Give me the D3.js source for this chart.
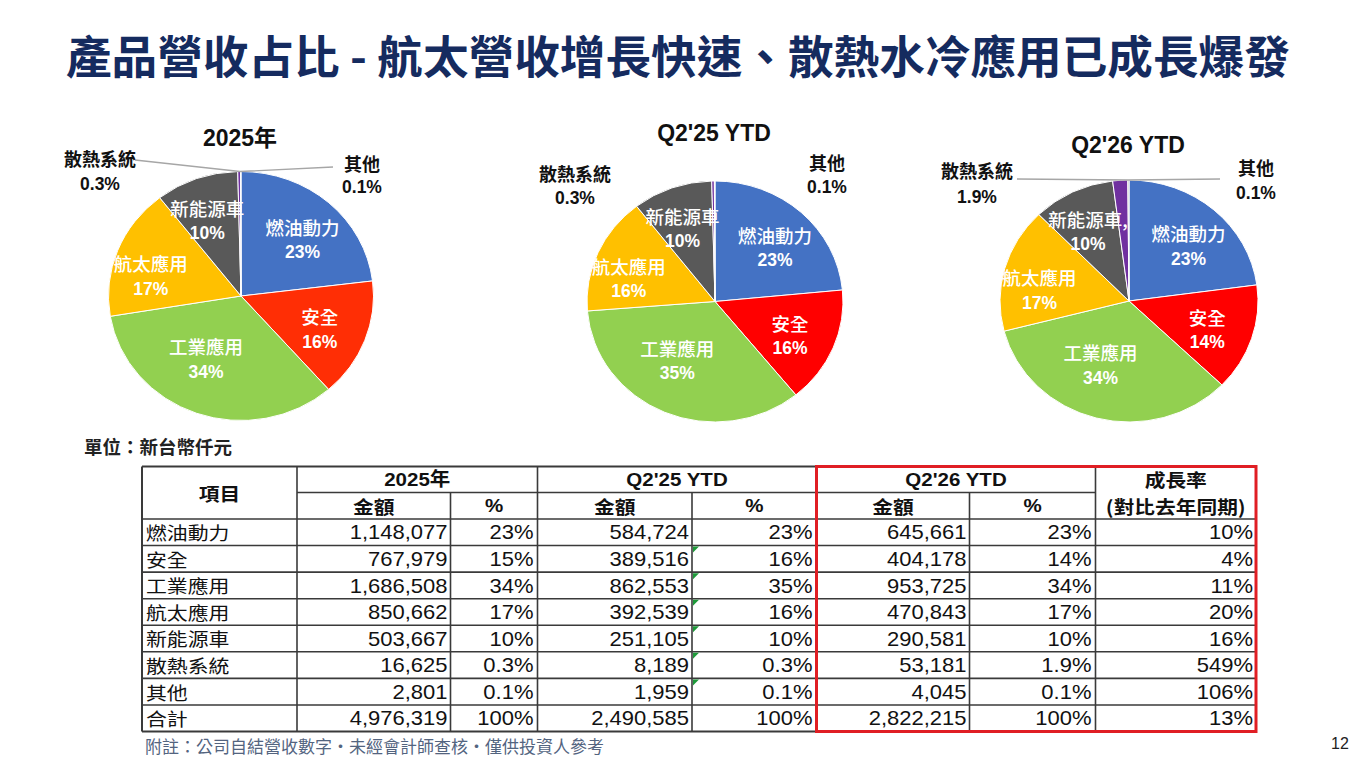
<!DOCTYPE html>
<html><head><meta charset="utf-8">
<script src="https://cdn.jsdelivr.net/npm/d3@7/dist/d3.min.js"></script>
<style>
html,body{margin:0;padding:0;background:#fff;}
svg{display:block;}
.lat{font-family:"Liberation Sans",Arial,"Noto Sans CJK TC",sans-serif;}
.cjk{font-family:"Noto Sans CJK TC","Liberation Sans",sans-serif;}
</style></head>
<body>
<svg id="c" width="1354" height="758"></svg>
<script>
// ---------- data ----------
const categories = ["燃油動力","安全","工業應用","航太應用","新能源車","散熱系統","其他"];
const amt2025 = [1148077, 767979, 1686508, 850662, 503667, 16625, 2801];
const pct2025 = ["23%","15%","34%","17%","10%","0.3%","0.1%"];
const amtQ225 = [584724, 389516, 862553, 392539, 251105, 8189, 1959];
const pctQ225 = ["23%","16%","35%","16%","10%","0.3%","0.1%"];
const amtQ226 = [645661, 404178, 953725, 470843, 290581, 53181, 4045];
const pctQ226 = ["23%","14%","34%","17%","10%","1.9%","0.1%"];
const growthRate = ["10%","4%","11%","20%","16%","549%","106%"];
const totalLabel = "合計";
const totalAmt = [4976319, 2490585, 2822215];
const totalPct = ["100%","100%","100%"];
const totalGrowth = "13%";
const periods = ["2025年","Q2'25 YTD","Q2'26 YTD"];
const pieLabelPct2025 = ["23%","16%","34%","17%","10%","0.3%","0.1%"];
const pieLabelPctQ225 = ["23%","16%","35%","16%","10%","0.3%","0.1%"];
const pieLabelPctQ226 = ["23%","14%","34%","17%","10%","1.9%","0.1%"];
const pieCatNames2025 = ["燃油動力","安全","工業應用","航太應用","新能源車","散熱系統","其他"];
const pieCatNamesQ225 = ["燃油動力","安全","工業應用","航太應用","新能源車","散熱系統","其他"];
const pieCatNamesQ226 = ["燃油動力","安全","工業應用","航太應用","新能源車,","散熱系統","其他"];
const titleText = "產品營收占比 - 航太營收增長快速、散熱水冷應用已成長爆發";
const unitText = "單位：新台幣仟元";
const noteText = "附註：公司自結營收數字・未經會計師查核・僅供投資人參考";
const pageNo = "12";

// ---------- style ----------
const colorsPie1 = ["#4472C4","#FF2E05","#92D050","#FFC000","#595959","#7030A0","#A5A5A5"];
const colorsPie2 = ["#4472C4","#FF0000","#92D050","#FFC000","#595959","#7030A0","#A5A5A5"];
const colorsPie3 = ["#4472C4","#FF0000","#92D050","#FFC000","#595959","#7030A0","#A5A5A5"];
// label placement style (relative radius, angular nudge in degrees) for inside labels
const labelRadiusFactor = [0.65, 0.65, 0.57, 0.70, 0.66];
const labelAngleNudge = [4, 3, 8, -8, -3];

const svg = d3.select("#c");

// Title
const title = svg.append("text").attr("class","cjk")
  .attr("x",66).attr("y",54).attr("dominant-baseline","central")
  .attr("font-weight",700).attr("fill","#152B5F").attr("font-size",44)
  .text(titleText);
{
  const w = title.node().getComputedTextLength();
  title.attr("font-size", 44 * 1224 / w);
}

// ---------- pies ----------
const pies = [
  {vals: amt2025, labels: pieLabelPct2025, names: pieCatNames2025, colors: colorsPie1, title: periods[0],
   cx: 241, cy: 296, rx: 132.5, ry: 124.5, ty: 138,
   outL: [-141, -138, -112], outR: [121, -133, -109], leader: true, leaderL:[135,160], leaderR:[333,167]},
  {vals: amtQ225, labels: pieLabelPctQ225, names: pieCatNamesQ225, colors: colorsPie2, title: periods[1],
   cx: 715, cy: 301.5, rx: 128, ry: 120.5, ty: 133,
   outL: [-140, -129, -104], outR: [112, -140, -115], leader: false},
  {vals: amtQ226, labels: pieLabelPctQ226, names: pieCatNamesQ226, colors: colorsPie3, title: periods[2],
   cx: 1129, cy: 301, rx: 129, ry: 121, ty: 145,
   outL: [-152, -131, -104], outR: [127, -134, -108], leader: true, leaderL:[1017,179], leaderR:[1220,179]}
];

pies.forEach(p => {
  const pie = d3.pie().sort(null).startAngle(0).endAngle(2*Math.PI);
  const arcs = pie(p.vals);
  const sx = p.rx / p.ry;
  const arc = d3.arc().innerRadius(0).outerRadius(p.ry);
  const g = svg.append("g").attr("transform", `translate(${p.cx},${p.cy}) scale(${sx},1)`);
  g.selectAll("path").data(arcs).join("path")
    .attr("d", arc).attr("fill", (d,i) => p.colors[i])
    .attr("stroke","#fff").attr("stroke-width",1).attr("vector-effect","non-scaling-stroke");

  // title
  svg.append("text").attr("class","lat").attr("x", p.cx - 1).attr("y", p.ty)
    .attr("text-anchor","middle").attr("dominant-baseline","central")
    .attr("font-size",23).attr("font-weight",700).attr("fill","#111").text(p.title);

  // inside labels
  arcs.slice(0,5).forEach((d,i) => {
    const r = p.ry * labelRadiusFactor[i];
    const nud = labelAngleNudge[i] * Math.PI / 180;
    const la = d3.arc().innerRadius(r).outerRadius(r);
    const c = la.centroid({startAngle: d.startAngle + nud, endAngle: d.endAngle + nud});
    const x = p.cx + c[0]*sx, y = p.cy + c[1];
    svg.append("text").attr("class","cjk").attr("x",x).attr("y",y-12.5)
      .attr("text-anchor","middle").attr("dominant-baseline","central")
      .attr("font-size",18.5).attr("font-weight",500).attr("fill","#fff").text(p.names[i]);
    svg.append("text").attr("class","lat").attr("x",x).attr("y",y+13)
      .attr("text-anchor","middle").attr("dominant-baseline","central")
      .attr("font-size",17.5).attr("font-weight",700).attr("fill","#fff").text(p.labels[i]);
  });

  // leader lines
  if (p.leader) {
    const tpx = p.cx - 1, tpy = p.cy - p.ry;
    svg.append("path").attr("d", `M${p.leaderL[0]},${p.leaderL[1]} L${tpx},${tpy} L${p.leaderR[0]},${p.leaderR[1]}`)
      .attr("fill","none").attr("stroke","#A6A6A6").attr("stroke-width",1.3);
  }
  // outside labels
  [[5, p.outL],[6, p.outR]].forEach(([i, o]) => {
    svg.append("text").attr("class","cjk").attr("x",p.cx + o[0]).attr("y",p.cy + o[1])
      .attr("text-anchor","middle").attr("dominant-baseline","central")
      .attr("font-size",18).attr("font-weight",700).attr("fill","#111").text(p.names[i]);
    svg.append("text").attr("class","lat").attr("x",p.cx + o[0]).attr("y",p.cy + o[2])
      .attr("text-anchor","middle").attr("dominant-baseline","central")
      .attr("font-size",17.5).attr("font-weight",700).attr("fill","#111").text(p.labels[i]);
  });
});

// Unit label
svg.append("text").attr("class","cjk").attr("x",84).attr("y",446).attr("dominant-baseline","central")
  .attr("font-size",18.5).attr("font-weight",700).attr("fill","#222").text(unitText);

// ---------- table ----------
const colX = [142, 297, 450.5, 537.5, 692, 816.5, 969.5, 1095.5, 1256];
const tTop = 466.5, hMid = 492.5, hBot = 519, tBot = 731.5;
const nRows = categories.length + 1;
const y = d3.scaleLinear().domain([0, nRows]).range([hBot, tBot]);
const fmt = d3.format(",");
const tg = svg.append("g");
const lineC = "#3a3a3a";
function hline(x1,x2,yy,w){ tg.append("line").attr("x1",x1).attr("x2",x2).attr("y1",yy).attr("y2",yy).attr("stroke",lineC).attr("stroke-width",w||1.6); }
function vline(xx,y1,y2,w){ tg.append("line").attr("x1",xx).attr("x2",xx).attr("y1",y1).attr("y2",y2).attr("stroke",lineC).attr("stroke-width",w||1.6); }

// outer border
hline(colX[0], colX[8], tTop, 2);
hline(colX[0], colX[8], tBot, 2);
vline(colX[0], tTop, tBot, 2);
vline(colX[8], tTop, tBot, 2);
hline(colX[1], colX[7], hMid);
for (let r = 0; r < nRows; r++) hline(colX[0], colX[8], y(r));
[1,3,5,7].forEach(i => vline(colX[i], tTop, tBot));
[2,4,6].forEach(i => vline(colX[i], hMid, tBot));

function txt(x, yy, s, anchor, opts) {
  opts = opts || {};
  const sc = opts.scale || 1;
  return tg.append("text").attr("class", opts.cls || "lat")
    .attr("transform", `translate(${x},${yy}) scale(${sc},1)`)
    .attr("text-anchor", anchor).attr("dominant-baseline","central")
    .attr("font-size", opts.size || 21).attr("font-weight", opts.bold ? 700 : 400)
    .attr("fill", "#111").text(s);
}
// headers
txt((colX[0]+colX[1])/2, (tTop+hBot)/2, "項目", "middle", {bold:true, cls:"cjk", size:18.5, scale:1.12});
periods.forEach((p,k) => {
  const a = colX[1+2*k], m = colX[2+2*k], b = colX[3+2*k];
  txt((a+b)/2, (tTop+hMid)/2, p, "middle", {bold:true, size:19, scale:1.08});
  txt((a+m)/2, (hMid+hBot)/2, "金額", "middle", {bold:true, cls:"cjk", size:18.5, scale:1.12});
  txt((m+b)/2, (hMid+hBot)/2, "%", "middle", {bold:true, size:19, scale:1.08});
});
txt((colX[7]+colX[8])/2, (tTop+hMid)/2 - 1, "成長率", "middle", {bold:true, cls:"cjk", size:18.5, scale:1.12});
txt((colX[7]+colX[8])/2, (hMid+hBot)/2, "(對比去年同期)", "middle", {bold:true, cls:"cjk", size:18.5, scale:1.12});

// body
const amts = [amt2025, amtQ225, amtQ226];
const pcts = [pct2025, pctQ225, pctQ226];
const cjkOpt = {cls:"cjk", size:18, scale:1.16};
const numOpt = {size:20, scale:1.1};
categories.forEach((c, r) => {
  const cy = (y(r) + y(r+1)) / 2;
  txt(colX[0] + 4, cy, c, "start", cjkOpt);
  for (let k = 0; k < 3; k++) {
    txt(colX[2+2*k] - 3, cy, fmt(amts[k][r]), "end", numOpt);
    txt(colX[3+2*k] - 4, cy, pcts[k][r], "end", numOpt);
  }
  txt(colX[8] - 3, cy, growthRate[r], "end", numOpt);
});
{
  const r = nRows - 1, cy = (y(r) + y(r+1)) / 2;
  txt(colX[0] + 4, cy, totalLabel, "start", cjkOpt);
  for (let k = 0; k < 3; k++) {
    txt(colX[2+2*k] - 3, cy, fmt(totalAmt[k]), "end", numOpt);
    txt(colX[3+2*k] - 4, cy, totalPct[k], "end", numOpt);
  }
  txt(colX[8] - 3, cy, totalGrowth, "end", numOpt);
}
// green error indicators (Q2'25 % cells, rows 2-7)
d3.range(1, 7).forEach(r => {
  const x0 = colX[4] + 1, y0 = y(r) + 1;
  tg.append("path").attr("d", `M${x0},${y0} L${x0+6},${y0} L${x0},${y0+6} Z`).attr("fill","#1E9A3A");
});
// red highlight box
tg.append("rect").attr("x", colX[5]).attr("y", tTop).attr("width", colX[8]-colX[5]).attr("height", tBot - tTop)
  .attr("fill","none").attr("stroke","#E01E24").attr("stroke-width",3);

// footnote & page number
svg.append("text").attr("class","cjk").attr("x",145).attr("y",745).attr("dominant-baseline","central")
  .attr("font-size",17).attr("fill","#53647F").text(noteText);
svg.append("text").attr("class","lat").attr("x",1340).attr("y",743).attr("text-anchor","middle")
  .attr("dominant-baseline","central").attr("font-size",16).attr("fill","#222").text(pageNo);
</script>
</body></html>
